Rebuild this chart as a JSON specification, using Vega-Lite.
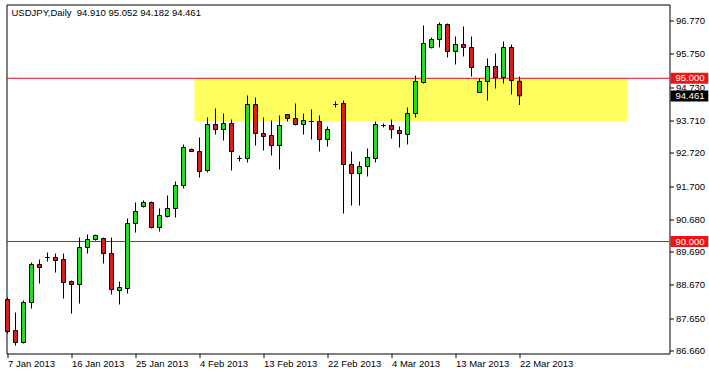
{
  "$schema": "https://vega.github.io/schema/vega-lite/v6.json",
  "width": 663,
  "height": 349,
  "padding": {"left": 4.5, "top": 4.5, "right": 0, "bottom": 0},
  "background": "white",
  "config": {
    "view": {"stroke": "black", "strokeWidth": 1},
    "scale": {"continuousPadding": 0},
    "axis": {"labelFont": "Liberation Sans", "labelFontSize": 9.5, "labelColor": "black", "tickColor": "black", "tickSize": 4, "grid": false, "domain": false, "labelOverlap": false, "labelFlush": false, "labelBound": false},
    "text": {"font": "Liberation Sans", "fontSize": 9.5}
  },
  "datasets": {
    "candles": [
      {"date": "2013-01-07", "i": 0, "open": 88.223, "high": 88.284, "low": 87.181, "close": 87.243},
      {"date": "2013-01-08", "i": 1, "open": 87.273, "high": 87.825, "low": 86.814, "close": 86.906},
      {"date": "2013-01-09", "i": 2, "open": 86.906, "high": 88.192, "low": 86.875, "close": 88.131},
      {"date": "2013-01-10", "i": 3, "open": 88.131, "high": 89.356, "low": 87.947, "close": 89.295},
      {"date": "2013-01-11", "i": 4, "open": 89.295, "high": 89.448, "low": 88.713, "close": 89.203},
      {"date": "2013-01-13", "i": 5, "open": 89.51, "high": 89.663, "low": 89.387, "close": 89.51},
      {"date": "2013-01-14", "i": 6, "open": 89.51, "high": 89.632, "low": 89.05, "close": 89.418},
      {"date": "2013-01-15", "i": 7, "open": 89.448, "high": 89.632, "low": 88.254, "close": 88.744},
      {"date": "2013-01-16", "i": 8, "open": 88.774, "high": 88.805, "low": 87.794, "close": 88.682},
      {"date": "2013-01-17", "i": 9, "open": 88.682, "high": 90.122, "low": 88.1, "close": 89.816},
      {"date": "2013-01-18", "i": 10, "open": 89.816, "high": 90.214, "low": 89.632, "close": 90.061},
      {"date": "2013-01-20", "i": 11, "open": 90.061, "high": 90.214, "low": 90.03, "close": 90.184},
      {"date": "2013-01-21", "i": 12, "open": 90.092, "high": 90.122, "low": 89.326, "close": 89.632},
      {"date": "2013-01-22", "i": 13, "open": 89.632, "high": 90.122, "low": 88.376, "close": 88.529},
      {"date": "2013-01-23", "i": 14, "open": 88.499, "high": 88.774, "low": 88.07, "close": 88.591},
      {"date": "2013-01-24", "i": 15, "open": 88.56, "high": 90.704, "low": 88.407, "close": 90.551},
      {"date": "2013-01-25", "i": 16, "open": 90.551, "high": 91.195, "low": 90.275, "close": 90.919},
      {"date": "2013-01-27", "i": 17, "open": 91.072, "high": 91.256, "low": 91.041, "close": 91.195},
      {"date": "2013-01-28", "i": 18, "open": 91.195, "high": 91.225, "low": 90.398, "close": 90.429},
      {"date": "2013-01-29", "i": 19, "open": 90.429, "high": 91.011, "low": 90.306, "close": 90.796},
      {"date": "2013-01-30", "i": 20, "open": 90.766, "high": 91.409, "low": 90.735, "close": 91.011},
      {"date": "2013-01-31", "i": 21, "open": 91.011, "high": 91.838, "low": 90.735, "close": 91.715},
      {"date": "2013-02-01", "i": 22, "open": 91.715, "high": 92.971, "low": 91.623, "close": 92.88},
      {"date": "2013-02-03", "i": 23, "open": 92.818, "high": 92.849, "low": 92.757, "close": 92.757},
      {"date": "2013-02-04", "i": 24, "open": 92.757, "high": 93.186, "low": 91.96, "close": 92.144},
      {"date": "2013-02-05", "i": 25, "open": 92.175, "high": 93.799, "low": 92.114, "close": 93.584},
      {"date": "2013-02-06", "i": 26, "open": 93.584, "high": 94.074, "low": 93.278, "close": 93.431},
      {"date": "2013-02-07", "i": 27, "open": 93.431, "high": 93.921, "low": 93.094, "close": 93.615},
      {"date": "2013-02-08", "i": 28, "open": 93.615, "high": 93.737, "low": 92.175, "close": 92.757},
      {"date": "2013-02-10", "i": 29, "open": 92.543, "high": 92.634, "low": 92.451, "close": 92.543},
      {"date": "2013-02-11", "i": 30, "open": 92.543, "high": 94.473, "low": 92.42, "close": 94.197},
      {"date": "2013-02-12", "i": 31, "open": 94.197, "high": 94.411, "low": 92.941, "close": 93.308},
      {"date": "2013-02-13", "i": 32, "open": 93.308, "high": 93.799, "low": 92.788, "close": 93.217},
      {"date": "2013-02-14", "i": 33, "open": 93.247, "high": 93.707, "low": 92.634, "close": 92.941},
      {"date": "2013-02-15", "i": 34, "open": 92.941, "high": 93.86, "low": 92.206, "close": 93.554},
      {"date": "2013-02-17", "i": 35, "open": 93.891, "high": 93.891, "low": 93.676, "close": 93.768},
      {"date": "2013-02-18", "i": 36, "open": 93.768, "high": 94.228, "low": 93.554, "close": 93.584},
      {"date": "2013-02-19", "i": 37, "open": 93.584, "high": 93.921, "low": 93.278, "close": 93.707},
      {"date": "2013-02-20", "i": 38, "open": 93.676, "high": 94.044, "low": 93.125, "close": 93.676},
      {"date": "2013-02-21", "i": 39, "open": 93.676, "high": 93.86, "low": 92.757, "close": 93.125},
      {"date": "2013-02-22", "i": 40, "open": 93.125, "high": 93.523, "low": 92.91, "close": 93.431},
      {"date": "2013-02-24", "i": 41, "open": 94.197, "high": 94.289, "low": 94.105, "close": 94.197},
      {"date": "2013-02-25", "i": 42, "open": 94.228, "high": 94.319, "low": 90.858, "close": 92.359},
      {"date": "2013-02-26", "i": 43, "open": 92.359, "high": 92.757, "low": 91.103, "close": 92.083},
      {"date": "2013-02-27", "i": 44, "open": 92.083, "high": 92.451, "low": 91.103, "close": 92.297},
      {"date": "2013-02-28", "i": 45, "open": 92.297, "high": 92.849, "low": 91.991, "close": 92.573},
      {"date": "2013-03-01", "i": 46, "open": 92.543, "high": 93.676, "low": 92.42, "close": 93.584},
      {"date": "2013-03-03", "i": 47, "open": 93.554, "high": 93.615, "low": 93.492, "close": 93.554},
      {"date": "2013-03-04", "i": 48, "open": 93.554, "high": 93.737, "low": 93.155, "close": 93.431},
      {"date": "2013-03-05", "i": 49, "open": 93.4, "high": 93.523, "low": 92.88, "close": 93.308},
      {"date": "2013-03-06", "i": 50, "open": 93.278, "high": 94.105, "low": 92.971, "close": 93.921},
      {"date": "2013-03-07", "i": 51, "open": 93.921, "high": 95.085, "low": 93.799, "close": 94.901},
      {"date": "2013-03-08", "i": 52, "open": 94.871, "high": 96.617, "low": 94.84, "close": 96.066},
      {"date": "2013-03-10", "i": 53, "open": 95.943, "high": 96.249, "low": 95.912, "close": 96.188},
      {"date": "2013-03-11", "i": 54, "open": 96.188, "high": 96.709, "low": 95.943, "close": 96.648},
      {"date": "2013-03-12", "i": 55, "open": 96.648, "high": 96.678, "low": 95.637, "close": 95.821},
      {"date": "2013-03-13", "i": 56, "open": 95.821, "high": 96.28, "low": 95.422, "close": 96.035},
      {"date": "2013-03-14", "i": 57, "open": 96.035, "high": 96.586, "low": 95.667, "close": 95.943},
      {"date": "2013-03-15", "i": 58, "open": 95.943, "high": 96.28, "low": 95.055, "close": 95.33},
      {"date": "2013-03-17", "i": 59, "open": 94.564, "high": 94.993, "low": 94.564, "close": 94.901},
      {"date": "2013-03-18", "i": 60, "open": 94.901, "high": 95.606, "low": 94.319, "close": 95.361},
      {"date": "2013-03-19", "i": 61, "open": 95.361, "high": 95.759, "low": 94.687, "close": 95.024},
      {"date": "2013-03-20", "i": 62, "open": 95.024, "high": 96.127, "low": 94.84, "close": 95.943},
      {"date": "2013-03-21", "i": 63, "open": 95.943, "high": 96.035, "low": 94.503, "close": 94.932},
      {"date": "2013-03-22", "i": 64, "open": 94.91, "high": 95.052, "low": 94.182, "close": 94.461}
    ],
    "zone": [{"start": 23.375, "end": 77.5, "top": 95.0, "bottom": 93.68}],
    "levels": [{"price": 95.0}, {"price": 90.0}],
    "badges": [
      {"price": 95.0, "kind": "level"},
      {"price": 90.0, "kind": "level"},
      {"price": 94.461, "kind": "last"}
    ],
    "header": [{"label": "USDJPY,Daily\u00a0 94.910 95.052 94.182 94.461"}]
  },
  "layer": [
    {
      "data": {"name": "zone"},
      "mark": {"type": "rect", "fill": "#ffff60", "stroke": null},
      "encoding": {
        "x": {"field": "start", "type": "quantitative", "scale": {"domain": [-0.125, 82.75], "nice": false, "zero": false, "padding": 0},
          "axis": {"title": null, "orient": "bottom", "values": [0, 8, 16, 24, 32, 40, 48, 56, 64], "labelAlign": "left", "labelDx": 1, "labelPadding": 1, "labelBaseline": "top",
            "labelExpr": "['7 Jan 2013','16 Jan 2013','25 Jan 2013','4 Feb 2013','13 Feb 2013','22 Feb 2013','4 Mar 2013','13 Mar 2013','22 Mar 2013'][round(datum.value/8)]"}},
        "x2": {"field": "end"},
        "y": {"field": "top", "type": "quantitative", "scale": {"domain": [86.57, 97.26], "nice": false, "zero": false, "padding": 0},
          "axis": {"title": null, "orient": "right", "values": [86.66, 87.65, 88.67, 89.69, 90.68, 91.7, 92.72, 93.71, 94.73, 95.75, 96.77], "format": ".3f", "labelAlign": "left", "labelPadding": 2, "labelBaseline": "middle"}},
        "y2": {"field": "bottom"}
      }
    },
    {
      "data": {"name": "levels"},
      "mark": {"type": "rule", "color": "#d8102a", "strokeWidth": 1},
      "encoding": {
        "y": {"field": "price", "type": "quantitative", "scale": {"domain": [86.57, 97.26], "nice": false, "zero": false, "padding": 0},
          "axis": {"title": null, "orient": "right", "values": [86.66, 87.65, 88.67, 89.69, 90.68, 91.7, 92.72, 93.71, 94.73, 95.75, 96.77], "format": ".3f", "labelAlign": "left", "labelPadding": 2, "labelBaseline": "middle"}}
      }
    },
    {
      "data": {"name": "candles"},
      "mark": {"type": "rule", "color": "black", "strokeWidth": 1},
      "encoding": {
        "x": {"field": "i", "type": "quantitative", "scale": {"domain": [-0.125, 82.75], "nice": false, "zero": false, "padding": 0},
          "axis": {"title": null, "orient": "bottom", "values": [0, 8, 16, 24, 32, 40, 48, 56, 64], "labelAlign": "left", "labelDx": 1, "labelPadding": 1, "labelBaseline": "top",
            "labelExpr": "['7 Jan 2013','16 Jan 2013','25 Jan 2013','4 Feb 2013','13 Feb 2013','22 Feb 2013','4 Mar 2013','13 Mar 2013','22 Mar 2013'][round(datum.value/8)]"}},
        "y": {"field": "low", "type": "quantitative", "scale": {"domain": [86.57, 97.26], "nice": false, "zero": false, "padding": 0},
          "axis": {"title": null, "orient": "right", "values": [86.66, 87.65, 88.67, 89.69, 90.68, 91.7, 92.72, 93.71, 94.73, 95.75, 96.77], "format": ".3f", "labelAlign": "left", "labelPadding": 2, "labelBaseline": "middle"}},
        "y2": {"field": "high"}
      }
    },
    {
      "data": {"name": "candles"},
      "mark": {"type": "bar", "orient": "vertical", "size": 4, "stroke": "black", "strokeWidth": 1},
      "encoding": {
        "x": {"field": "i", "type": "quantitative", "scale": {"domain": [-0.125, 82.75], "nice": false, "zero": false, "padding": 0},
          "axis": {"title": null, "orient": "bottom", "values": [0, 8, 16, 24, 32, 40, 48, 56, 64], "labelAlign": "left", "labelDx": 1, "labelPadding": 1, "labelBaseline": "top",
            "labelExpr": "['7 Jan 2013','16 Jan 2013','25 Jan 2013','4 Feb 2013','13 Feb 2013','22 Feb 2013','4 Mar 2013','13 Mar 2013','22 Mar 2013'][round(datum.value/8)]"}},
        "y": {"field": "open", "type": "quantitative", "scale": {"domain": [86.57, 97.26], "nice": false, "zero": false, "padding": 0},
          "axis": {"title": null, "orient": "right", "values": [86.66, 87.65, 88.67, 89.69, 90.68, 91.7, 92.72, 93.71, 94.73, 95.75, 96.77], "format": ".3f", "labelAlign": "left", "labelPadding": 2, "labelBaseline": "middle"}},
        "y2": {"field": "close"},
        "fill": {"condition": {"test": "datum.close >= datum.open", "value": "#22dd22"}, "value": "#d42020"}
      }
    },
    {
      "data": {"name": "badges"},
      "mark": {"type": "bar", "orient": "horizontal", "size": 11, "clip": false},
      "encoding": {
        "x": {"datum": 82.875, "type": "quantitative", "scale": {"domain": [-0.125, 82.75], "nice": false, "zero": false, "padding": 0},
          "axis": {"title": null, "orient": "bottom", "values": [0, 8, 16, 24, 32, 40, 48, 56, 64], "labelAlign": "left", "labelDx": 1, "labelPadding": 1, "labelBaseline": "top",
            "labelExpr": "['7 Jan 2013','16 Jan 2013','25 Jan 2013','4 Feb 2013','13 Feb 2013','22 Feb 2013','4 Mar 2013','13 Mar 2013','22 Mar 2013'][round(datum.value/8)]"}},
        "x2": {"datum": 87.6},
        "y": {"field": "price", "type": "quantitative", "scale": {"domain": [86.57, 97.26], "nice": false, "zero": false, "padding": 0},
          "axis": {"title": null, "orient": "right", "values": [86.66, 87.65, 88.67, 89.69, 90.68, 91.7, 92.72, 93.71, 94.73, 95.75, 96.77], "format": ".3f", "labelAlign": "left", "labelPadding": 2, "labelBaseline": "middle"}},
        "fill": {"condition": {"test": "datum.kind === 'level'", "value": "#f01414"}, "value": "black"}
      }
    },
    {
      "data": {"name": "badges"},
      "mark": {"type": "text", "align": "left", "baseline": "middle", "color": "white", "clip": false},
      "encoding": {
        "x": {"datum": 83.5, "type": "quantitative", "scale": {"domain": [-0.125, 82.75], "nice": false, "zero": false, "padding": 0},
          "axis": {"title": null, "orient": "bottom", "values": [0, 8, 16, 24, 32, 40, 48, 56, 64], "labelAlign": "left", "labelDx": 1, "labelPadding": 1, "labelBaseline": "top",
            "labelExpr": "['7 Jan 2013','16 Jan 2013','25 Jan 2013','4 Feb 2013','13 Feb 2013','22 Feb 2013','4 Mar 2013','13 Mar 2013','22 Mar 2013'][round(datum.value/8)]"}},
        "y": {"field": "price", "type": "quantitative", "scale": {"domain": [86.57, 97.26], "nice": false, "zero": false, "padding": 0},
          "axis": {"title": null, "orient": "right", "values": [86.66, 87.65, 88.67, 89.69, 90.68, 91.7, 92.72, 93.71, 94.73, 95.75, 96.77], "format": ".3f", "labelAlign": "left", "labelPadding": 2, "labelBaseline": "middle"}},
        "text": {"field": "price", "type": "quantitative", "format": ".3f"}
      }
    },
    {
      "data": {"name": "header"},
      "mark": {"type": "text", "align": "left", "baseline": "middle", "color": "black"},
      "encoding": {
        "x": {"datum": 0.5, "type": "quantitative", "scale": {"domain": [-0.125, 82.75], "nice": false, "zero": false, "padding": 0},
          "axis": {"title": null, "orient": "bottom", "values": [0, 8, 16, 24, 32, 40, 48, 56, 64], "labelAlign": "left", "labelDx": 1, "labelPadding": 1, "labelBaseline": "top",
            "labelExpr": "['7 Jan 2013','16 Jan 2013','25 Jan 2013','4 Feb 2013','13 Feb 2013','22 Feb 2013','4 Mar 2013','13 Mar 2013','22 Mar 2013'][round(datum.value/8)]"}},
        "y": {"datum": 96.985, "type": "quantitative", "scale": {"domain": [86.57, 97.26], "nice": false, "zero": false, "padding": 0},
          "axis": {"title": null, "orient": "right", "values": [86.66, 87.65, 88.67, 89.69, 90.68, 91.7, 92.72, 93.71, 94.73, 95.75, 96.77], "format": ".3f", "labelAlign": "left", "labelPadding": 2, "labelBaseline": "middle"}},
        "text": {"field": "label", "type": "nominal"}
      }
    }
  ]
}
